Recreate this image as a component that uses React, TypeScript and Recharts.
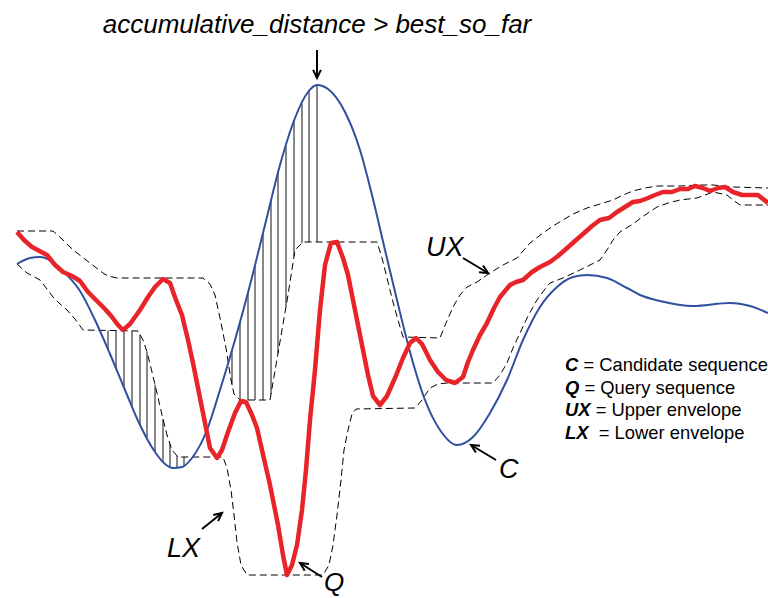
import { LineChart, Line, XAxis, YAxis, ReferenceLine } from "recharts"

// time (x) and amplitude (y) readings, y grows upwards
const candidate: [number, number][] = [
  [17, 334], [30, 340], [40, 341], [53, 336], [67, 323], [80, 307], [95, 278], [110, 244],
  [125, 208], [140, 173], [155, 146], [165, 134], [173, 130], [182, 131], [192, 140], [207, 168],
  [220, 208], [235, 258], [250, 313], [265, 373], [280, 433], [295, 480], [308, 506], [317, 513],
  [328, 509], [345, 486], [360, 448], [372, 403], [385, 348], [397, 298], [410, 246], [425, 198],
  [440, 168], [457, 153], [473, 161], [490, 185], [507, 218], [523, 258], [540, 291], [557, 311],
  [573, 321], [587, 323], [607, 320], [627, 310], [640, 303], [660, 297], [693, 292], [730, 295],
  [750, 292], [768, 285],
]

const query: [number, number][] = [
  [17, 366], [24, 358], [32, 351], [47, 343], [55, 333], [63, 326], [72, 322], [80, 317],
  [88, 306], [97, 297], [105, 289], [112, 281], [118, 273], [123, 268], [130, 274], [140, 288],
  [148, 301], [155, 311], [163, 319], [170, 315], [176, 298], [182, 283], [188, 258], [193, 235],
  [198, 210], [203, 185], [210, 150], [217, 140], [222, 148], [228, 166], [235, 185], [241, 197],
  [246, 196], [252, 183], [257, 170], [262, 148], [270, 113], [278, 73], [283, 43], [287, 23],
  [292, 33], [297, 53], [302, 88], [306, 128], [310, 178], [315, 228], [320, 288], [325, 333],
  [331, 355], [337, 356], [343, 340], [348, 323], [355, 288], [362, 253], [368, 223], [373, 202],
  [380, 193], [387, 202], [395, 220], [403, 240], [410, 255], [416, 260], [422, 254], [430, 238],
  [438, 226], [446, 218], [455, 215], [463, 221], [468, 236], [473, 248], [480, 263], [487, 275],
  [494, 290], [500, 301], [510, 313], [516, 316], [523, 318], [532, 326], [540, 331], [550, 336],
  [558, 342], [566, 349], [575, 357], [583, 364], [592, 372], [600, 378], [609, 380], [617, 386],
  [625, 391], [633, 396], [640, 397], [648, 400], [655, 403], [663, 406], [672, 406], [680, 409],
  [688, 409], [695, 412], [703, 410], [710, 407], [718, 410], [725, 411], [733, 406], [742, 403],
  [750, 403], [758, 403], [768, 395],
]

const upper: [number, number][] = [
  [17, 367], [53, 367], [63, 358], [70, 351], [77, 345], [90, 335], [103, 325], [108, 322],
  [117, 320], [203, 320], [210, 314], [215, 303], [220, 280], [226, 250], [231, 218], [234, 204],
  [240, 198], [270, 198], [276, 233], [282, 268], [288, 303], [295, 348], [303, 356], [377, 356],
  [382, 340], [387, 320], [393, 296], [398, 278], [403, 261], [440, 260], [446, 275], [453, 291],
  [460, 303], [467, 311], [477, 316], [490, 325], [503, 333], [517, 340], [530, 355], [543, 365],
  [553, 372], [563, 378], [573, 384], [587, 390], [600, 394], [613, 398], [623, 403], [633, 407],
  [645, 410], [657, 412], [680, 412], [700, 413], [713, 413], [723, 412], [733, 411], [768, 410],
]

const lower: [number, number][] = [
  [17, 334], [27, 325], [40, 318], [47, 309], [53, 301], [60, 294], [67, 288], [75, 279],
  [83, 268], [138, 267], [143, 258], [147, 246], [152, 226], [157, 205], [162, 183], [167, 163],
  [172, 148], [178, 141], [223, 141], [227, 130], [231, 108], [234, 83], [237, 56], [241, 33],
  [247, 23], [323, 23], [329, 33], [333, 53], [337, 83], [341, 118], [344, 148], [348, 168],
  [352, 184], [356, 189], [415, 190], [422, 198], [430, 210], [438, 214], [447, 215], [493, 215],
  [500, 223], [507, 235], [513, 250], [520, 265], [528, 282], [537, 298], [545, 309], [550, 315],
  [563, 320], [580, 328], [600, 338], [607, 348], [613, 358], [620, 366], [633, 374], [645, 383],
  [657, 391], [668, 395], [680, 398], [697, 400], [705, 403], [713, 406], [727, 403], [733, 398],
  [740, 393], [768, 393],
]

// samples where C leaves the envelope (hatched)
const belowLower = [100, 108, 116, 124, 132, 140, 147, 155, 163, 170, 177, 184]
const aboveUpper = [232, 240, 248, 255, 263, 271, 278, 286, 294, 302, 309, 317]

const legendRows = [
  { key: "C", text: " = Candidate sequence" },
  { key: "Q", text: " = Query sequence" },
  { key: "UX", text: " = Upper envelope" },
  { key: "LX", text: "  = Lower envelope" },
]

const toRows = (s: [number, number][]) => s.map(([t, v]) => ({ t, v }))

const valueAt = (s: [number, number][], t: number) => {
  for (let i = 0; i < s.length - 1; i++) {
    const [t0, v0] = s[i]
    const [t1, v1] = s[i + 1]
    if (t >= t0 && t <= t1) return v0 + ((v1 - v0) * (t - t0)) / (t1 - t0)
  }
  return s[s.length - 1][1]
}

const hatch = [
  ...belowLower.map((t) => ({ t, a: valueAt(lower, t), b: valueAt(candidate, t) })),
  ...aboveUpper.map((t) => ({ t, a: valueAt(candidate, t), b: valueAt(upper, t) })),
]

const W = 768
const H = 598
const font = "'Liberation Sans', Arial, sans-serif"

const Arrow = ({ x1, y1, x2, y2 }: { x1: number; y1: number; x2: number; y2: number }) => {
  const ang = Math.atan2(y2 - y1, x2 - x1)
  const len = 9
  const spread = 0.45
  const ax = x2 - len * Math.cos(ang - spread)
  const ay = y2 - len * Math.sin(ang - spread)
  const bx = x2 - len * Math.cos(ang + spread)
  const by = y2 - len * Math.sin(ang + spread)
  return (
    <g stroke="#000" strokeWidth={2} fill="none">
      <line x1={x1} y1={y1} x2={x2} y2={y2} />
      <polyline points={`${ax},${ay} ${x2},${y2} ${bx},${by}`} />
    </g>
  )
}

const App = () => {
  return (
    <div style={{ position: "absolute", left: 0, top: 0, width: W, height: H, background: "#fff", overflow: "hidden" }}>
      <LineChart width={W} height={H} margin={{ top: 0, right: 0, bottom: 0, left: 0 }}>
        <XAxis dataKey="t" type="number" domain={[0, W]} hide />
        <YAxis type="number" domain={[0, H]} hide />
        {hatch.map((h) => (
          <ReferenceLine
            key={`h-${h.t}`}
            segment={[{ x: h.t, y: h.a }, { x: h.t, y: h.b }]}
            stroke="#111"
            strokeWidth={1}
          />
        ))}
        <Line data={toRows(upper)} dataKey="v" type="linear" stroke="#000" strokeWidth={1} strokeDasharray="7 4" dot={false} activeDot={false} isAnimationActive={false} />
        <Line data={toRows(lower)} dataKey="v" type="linear" stroke="#000" strokeWidth={1} strokeDasharray="7 4" dot={false} activeDot={false} isAnimationActive={false} />
        <Line data={toRows(candidate)} dataKey="v" type="monotone" stroke="#2f4f9f" strokeWidth={2} dot={false} activeDot={false} isAnimationActive={false} />
        <Line data={toRows(query)} dataKey="v" type="linear" stroke="#e8242a" strokeWidth={4.5} strokeLinejoin="round" dot={false} activeDot={false} isAnimationActive={false} />
      </LineChart>
      <svg width={W} height={H} style={{ position: "absolute", left: 0, top: 0, pointerEvents: "none" }}>
        <text x={317} y={33} textAnchor="middle" fontFamily={font} fontStyle="italic" fontSize={26} fill="#000">
          accumulative_distance &gt; best_so_far
        </text>
        <Arrow x1={317} y1={50} x2={317} y2={78} />
        <text x={426} y={256} fontFamily={font} fontStyle="italic" fontSize={27} fill="#000">UX</text>
        <Arrow x1={463} y1={258} x2={488} y2={273} />
        <text x={499} y={478} fontFamily={font} fontStyle="italic" fontSize={27} fill="#000">C</text>
        <Arrow x1={496} y1={460} x2={471} y2={445} />
        <text x={167} y={557} fontFamily={font} fontStyle="italic" fontSize={27} fill="#000">LX</text>
        <Arrow x1={202} y1={529} x2={222} y2={513} />
        <text x={324} y={591} fontFamily={font} fontStyle="italic" fontSize={26} fill="#000">Q</text>
        <Arrow x1={322} y1={577} x2={300} y2={563} />
        {legendRows.map((r, i) => (
          <text key={r.key} x={565} y={371 + i * 22.7} fontFamily={font} fontSize={18.4} fill="#000" style={{ whiteSpace: "pre" }}>
            <tspan fontWeight="bold" fontStyle="italic">{r.key}</tspan>
            <tspan>{r.text}</tspan>
          </text>
        ))}
      </svg>
    </div>
  )
}

export default App
